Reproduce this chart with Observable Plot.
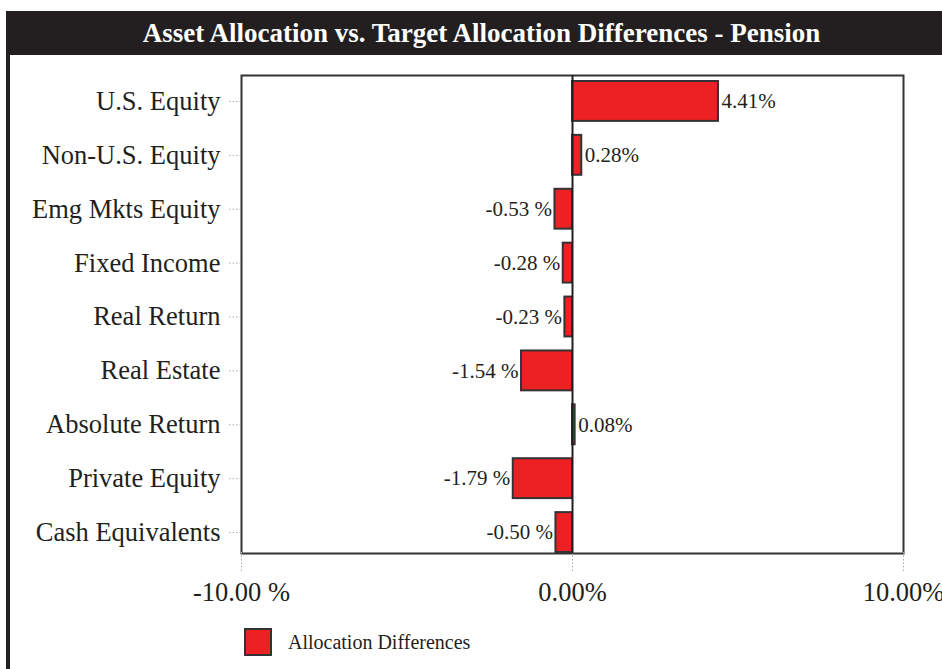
<!DOCTYPE html>
<html>
<head>
<meta charset="utf-8">
<script src="https://cdn.jsdelivr.net/npm/d3@7"></script>
<script src="https://cdn.jsdelivr.net/npm/@observablehq/plot@0.6"></script>
<style>
  html, body { margin: 0; padding: 0; background: #fff; }
  #wrap { position: relative; width: 942px; height: 669px; overflow: hidden; font-family: "Liberation Serif", "Times New Roman", serif; color: #231f20; }
  #title { position: absolute; left: 6px; top: 11px; width: 936px; height: 44px; background: #231f20; color: #fff; font-weight: bold; font-size: 27px; line-height: 44px; text-align: center; white-space: nowrap; }
  #title span { display: inline-block; margin-left: 15px; }
  #leftbar { position: absolute; left: 6px; top: 11px; width: 4px; height: 658px; background: #231f20; }
  #chart { position: absolute; left: 0; top: 56px; }
  #legend { position: absolute; left: 244px; top: 628px; display: flex; align-items: center; }
  #legend .sw { width: 24px; height: 24px; background: #ed2024; border: 2px solid #333; }
  #legend .lb { margin-left: 16px; font-size: 20px; }
</style>
</head>
<body>
<div id="wrap">
  <div id="title"><span>Asset Allocation vs. Target Allocation Differences - Pension</span></div>
  <div id="leftbar"></div>
  <div id="chart"></div>
  <div id="legend"><div class="sw"></div><div class="lb">Allocation Differences</div></div>
</div>
<script>
const categories = ["U.S. Equity", "Non-U.S. Equity", "Emg Mkts Equity", "Fixed Income", "Real Return", "Real Estate", "Absolute Return", "Private Equity", "Cash Equivalents"];
const values = [4.41, 0.28, -0.53, -0.28, -0.23, -1.54, 0.08, -1.79, -0.50];
const xTicks = [-10, 0, 10];
const xTickLabels = ["-10.00 %", "0.00%", "10.00%"];
const seriesName = "Allocation Differences";

const data = categories.map((c, i) => ({category: c, value: values[i]}));
const fmt = v => v < 0 ? v.toFixed(2) + " %" : v.toFixed(2) + "%";
const serif = "'Liberation Serif', 'Times New Roman', serif";

const plot = Plot.plot({
  width: 942,
  height: 560,
  marginLeft: 241,
  marginRight: 39,
  marginTop: 25,
  marginBottom: 64,
  style: {fontFamily: serif, fontSize: "26px", color: "#231f20", background: "transparent"},
  x: {domain: [-10, 10], ticks: xTicks, tickFormat: (d) => xTickLabels[xTicks.indexOf(d)]},
  y: {domain: categories, paddingInner: 0.26, paddingOuter: 0, align: 0.5, round: false},
  marks: [
    Plot.frame({stroke: "#333", strokeWidth: 2, insetTop: -6, insetBottom: -1}),
    Plot.axisY({tickSize: 13, tickPadding: 8, stroke: "#aaa", strokeDasharray: "1.5,2", fontSize: 26.5, label: null}),
    Plot.axisX({ticks: xTicks, tickFormat: (d) => xTickLabels[xTicks.indexOf(d)], tickSize: 20, tickPadding: 10, stroke: "#aaa", strokeDasharray: "1.5,2", fontSize: 26.5, label: null}),
    Plot.barX(data, {x: "value", y: "category", fill: "#ed2024", stroke: "#333", strokeWidth: 2}),
    Plot.ruleX([0], {stroke: "#231f20", strokeWidth: 2, insetTop: -6, insetBottom: -1}),
    Plot.text(data.filter(d => d.value >= 0), {x: "value", y: "category", text: d => fmt(d.value), textAnchor: "start", dx: 3, fontSize: 21, fill: "#231f20"}),
    Plot.text(data.filter(d => d.value < 0), {x: "value", y: "category", text: d => fmt(d.value), textAnchor: "end", dx: -3, fontSize: 21, fill: "#231f20"})
  ]
});
document.getElementById("chart").appendChild(plot);
</script>
</body>
</html>
